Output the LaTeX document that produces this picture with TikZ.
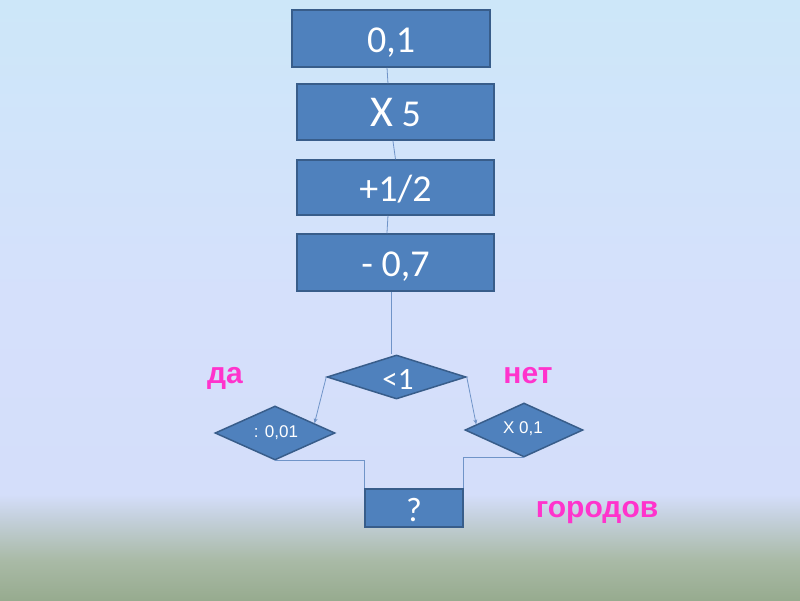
\documentclass[tikz,border=0pt]{standalone}
\usepackage{fontspec}
\setmainfont{Carlito}
\newfontfamily\arialf{Liberation Sans}
\usetikzlibrary{shapes.geometric,arrows.meta,calc}
\definecolor{boxfill}{HTML}{4F81BD}
\definecolor{boxline}{HTML}{385D8A}
\definecolor{conn}{HTML}{7094C8}
\definecolor{lbl}{HTML}{FF33CC}
\definecolor{bgA}{HTML}{97AB8F}
\definecolor{bgB}{HTML}{A9BAA6}
\definecolor{bgC}{HTML}{C3CFDA}
\definecolor{bgD}{HTML}{D4DEFA}
\definecolor{bgE}{HTML}{D5E0FB}
\definecolor{bgF}{HTML}{CDE7F9}
\pgfdeclareverticalshading{bgshade}{100bp}{color(0bp)=(bgA); color(25bp)=(bgA); color(28.3bp)=(bgB); color(31.7bp)=(bgC); color(33.8bp)=(bgD); color(50bp)=(bgE); color(75bp)=(bgF); color(100bp)=(bgF)}
\tikzset{
  stepbox/.style={draw=boxline, line width=1.5pt, fill=boxfill, rectangle, inner sep=0pt, text=white, text height=28pt, text depth=0pt, font=\fontsize{38}{38}\selectfont},
  dia/.style={draw=boxline, line width=1.5pt, fill=boxfill, diamond, inner sep=0pt},
  wtext/.style={text=white, inner sep=0pt},
  conn/.style={draw=conn, line width=0.8pt, -{Stealth[length=5pt,width=4pt]}},
  plain/.style={draw=conn, line width=0.8pt},
  lab/.style={text=lbl, font=\arialf\bfseries\fontsize{30}{30}\selectfont, inner sep=0pt}
}
\begin{document}
\begin{tikzpicture}[x=1pt,y=-1pt]
\useasboundingbox (0,0) rectangle (800,600);
\shade[shading=bgshade] (0,0) rectangle (800,600);
\node[stepbox, minimum width=198, minimum height=57] (b1) at (391,38.5) {0,1};
\node[stepbox, minimum width=197, minimum height=56] (b2) at (395.5,112) {{\fontsize{44}{44}\selectfont X} 5};
\node[stepbox, minimum width=197, minimum height=55] (b3) at (395.5,187.5) {+1/2};
\node[stepbox, minimum width=197, minimum height=57] (b4) at (395.5,262.5) {- 0,7};
\node[dia, minimum width=139, minimum height=44] (d1) at (396.5,377) {};
\node[wtext, font=\fontsize{31}{31}\selectfont] (t1) at (398,380) {<1};
\node[dia, minimum width=120, minimum height=54] (dl) at (275,433) {};
\node[wtext, font=\arialf\fontsize{17}{17}\selectfont] (t2) at (276,433) {: 0,01};
\node[dia, minimum width=118, minimum height=54] (dr) at (524,430) {};
\node[wtext, font=\arialf\fontsize{17}{17}\selectfont] (t3) at (523,429) {X 0,1};
\node[stepbox, minimum width=98, minimum height=38, text height=26pt, font=\fontsize{34}{34}\selectfont] (q) at (414,508) {?};
\draw[plain] ($(b1.south west)!0.48!(b1.south east)$) -- ($(b2.north west)!0.462!(b2.north east)$);
\draw[plain] ($(b2.south west)!0.487!(b2.south east)$) -- ($(b3.north west)!0.5!(b3.north east)$);
\draw[plain] ($(b3.south west)!0.462!(b3.south east)$) -- ($(b4.north west)!0.457!(b4.north east)$);
\draw[plain] ($(b4.south west)!0.477!(b4.south east)$) coordinate (c4) -- (c4 |- d1.north);
\draw[conn] (d1.west) -- ($(dl.north)!0.65!(dl.east)$);
\draw[conn] (d1.east) -- ($(dr.west)!0.2!(dr.north)$);
\draw[plain] (dl.south) -| (q.north west);
\draw[plain] (dr.south) -| (q.north east);
\node[lab] (da) at (225,378) {да};
\node[lab] (net) at (528,376) {нет};
\node[lab] (gor) at (597,513) {городов};
\end{tikzpicture}
\end{document}
